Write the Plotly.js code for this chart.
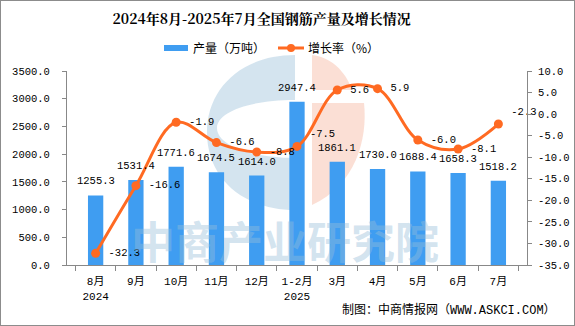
<!DOCTYPE html>
<html><head><meta charset="utf-8">
<script src="https://cdn.plot.ly/plotly-3.0.1.min.js"></script>
<style>
html,body{margin:0;padding:0;background:#fff;}
#wrap{position:relative;width:575px;height:326px;}
#chart{width:575px;height:326px;}
#frame{position:absolute;left:0;top:0;width:575px;height:326px;box-sizing:border-box;border:1px solid #8c8c8c;pointer-events:none;}
</style></head>
<body><div id="wrap"><div id="chart"></div><div id="frame"></div></div>
<script>
const categories = ["8月<br>2024","9月","10月","11月","12月","1-2月<br>2025","3月","4月","5月","6月","7月"];
const production = [1255.3,1531.4,1771.6,1674.5,1614.0,2947.4,1861.1,1730.0,1688.4,1658.3,1518.2];
const growth = [-32.3,-16.6,-1.9,-6.6,-8.8,-7.5,5.6,5.9,-6.0,-8.1,-2.3];
const leftTicks = [0,500,1000,1500,2000,2500,3000,3500];
const rightTicks = [-35,-30,-25,-20,-15,-10,-5,0,5,10];
const seriesNames = ['产量（万吨）','增长率（%）'];

const numFont = "Liberation Mono, Noto Sans CJK SC, monospace";
const cjkFont = "Noto Sans CJK SC, sans-serif";
const barColor = '#3F9DF1';
const lineColor = '#FF6A22';
const numSize = 10.5;

// pixel -> paper helpers for watermark / legend decorations
const X0=67, W=460, YB=265, H=194;
const px = x => +((x-X0)/W).toFixed(4);
const py = y => +((YB-y)/H).toFixed(4);

const growthPos = growth.map((v,i)=> (i===growth.length-1 || i===5) ? 'top right' : 'middle right');

const traces = [
  {type:'bar', name:seriesNames[0], x:categories, y:production,
   marker:{color:barColor}, width:0.38, hoverinfo:'none', showlegend:false},
  {type:'scatter', mode:'lines+markers+text', name:seriesNames[1], x:categories, y:growth, yaxis:'y2',
   line:{color:lineColor, width:3, shape:'spline', smoothing:1.0},
   marker:{color:lineColor, size:9},
   text:growth.map(v=>' '+v.toFixed(1)), textposition:growthPos, cliponaxis:false,
   textfont:{family:numFont, size:numSize, color:'#000'}, hoverinfo:'none', showlegend:false}
];

const wmBlue = 'rgba(160,196,220,0.45)';
const wmOrange = 'rgba(245,175,150,0.4)';
const P = (x,y) => `${px(x)} ${py(y)}`;
const shapes = [
  {type:'path', xref:'paper', yref:'paper', layer:'below', fillcolor:wmBlue, line:{width:0},
   path:`M ${P(295,55)} C ${P(240,55)} ${P(207,90)} ${P(207,132)} C ${P(207,180)} ${P(245,210)} ${P(295,210)} L ${P(295,158)} C ${P(250,158)} ${P(217,145)} ${P(217,128)} C ${P(217,112)} ${P(250,100)} ${P(295,100)} Z`},
  {type:'path', xref:'paper', yref:'paper', layer:'below', fillcolor:wmOrange, line:{width:0},
   path:`M ${P(312,55)} C ${P(330,57)} ${P(345,70)} ${P(352,90)} L ${P(312,90)} Z`},
  {type:'path', xref:'paper', yref:'paper', layer:'below', fillcolor:wmOrange, line:{width:0},
   path:`M ${P(312,103)} L ${P(364,103)} C ${P(368,140)} ${P(355,185)} ${P(312,205)} Z`},
  {type:'rect', xref:'paper', yref:'paper', x0:px(164), x1:px(188), y0:py(51), y1:py(45), fillcolor:barColor, line:{width:0}},
  {type:'line', xref:'paper', yref:'paper', x0:px(278), x1:px(304), y0:py(48), y1:py(48), line:{color:lineColor, width:3}},
  {type:'circle', xref:'paper', yref:'paper', x0:px(287), x1:px(295), y0:py(52), y1:py(44), fillcolor:lineColor, line:{width:0}}
];

const annotations = [
  {text:'中商产业研究院', xref:'paper', yref:'paper', x:px(285), y:py(240), xanchor:'center', yanchor:'middle',
   showarrow:false, font:{family:cjkFont, size:44, color:'rgba(150,190,218,0.42)', weight:700}},
  {text:seriesNames[0], xref:'paper', yref:'paper', x:px(191), y:py(48), xanchor:'left', yanchor:'middle',
   showarrow:false, font:{family:cjkFont, size:12, color:'#000'}},
  {text:seriesNames[1], xref:'paper', yref:'paper', x:px(306), y:py(48), xanchor:'left', yanchor:'middle',
   showarrow:false, font:{family:cjkFont, size:12, color:'#000'}},
  {text:'制图：中商情报网（WWW.ASKCI.COM）', xref:'paper', yref:'paper', x:px(558), y:py(310),
   xanchor:'right', yanchor:'middle', showarrow:false, font:{family:numFont, size:12, color:'#000'}}
];
// bar value labels, placed from the data
production.forEach((v,i)=>{
  annotations.push({x:categories[i], y:v, xref:'x', yref:'y', text:v.toFixed(1), showarrow:false,
    xanchor:'center', yanchor:'bottom', yshift:6, font:{family:numFont, size:numSize, color:'#000'}});
});

const layout = {
  width:575, height:326,
  margin:{l:67, r:48, t:71, b:61, pad:0},
  paper_bgcolor:'#fff', plot_bgcolor:'rgba(0,0,0,0)',
  title:{text:'<b>2024年8月-2025年7月全国钢筋产量及增长情况</b>', xref:'container', yref:'container',
         x:0.455, y:0.94, xanchor:'center', yanchor:'middle',
         font:{family:"Noto Serif CJK SC, DejaVu Serif, Noto Sans CJK SC, serif", size:14, color:'#000'}},
  showlegend:false,
  bargap:0.6,
  xaxis:{type:'category', showgrid:false, zeroline:false, showline:true, linecolor:'#888', linewidth:1,
         ticks:'outside', tickson:'boundaries', ticklen:5, tickcolor:'#888', ticklabelstandoff:6,
         tickfont:{family:numFont, size:11, color:'#000'}, fixedrange:true},
  yaxis:{range:[0,3500], tickvals:leftTicks, ticktext:leftTicks.map(v=>v.toFixed(1)), showgrid:false, zeroline:false,
         showline:true, linecolor:'#888', linewidth:1, ticks:'outside', ticklen:4, tickcolor:'#888', ticklabelstandoff:10,
         tickfont:{family:numFont, size:numSize, color:'#000'}},
  yaxis2:{range:[-35,10], tickvals:rightTicks, ticktext:rightTicks.map(v=>v.toFixed(1)), overlaying:'y', side:'right',
          showgrid:false, zeroline:false, showline:true, linecolor:'#888', linewidth:1, ticks:'outside', ticklen:4,
          tickcolor:'#888', ticklabelstandoff:4, tickfont:{family:numFont, size:numSize, color:'#000'}},
  shapes:shapes,
  annotations:annotations
};

Plotly.newPlot('chart', traces, layout, {displayModeBar:false, staticPlot:true});
</script></body></html>
